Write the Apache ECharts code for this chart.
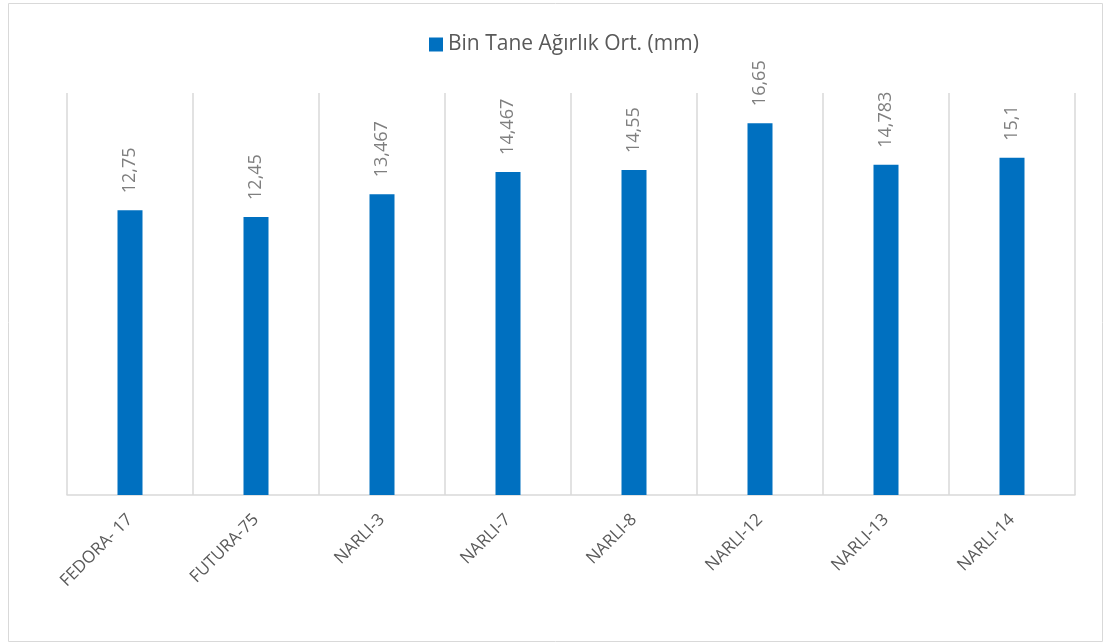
<!DOCTYPE html>
<html>
<head>
<meta charset="utf-8">
<script src="https://cdn.jsdelivr.net/npm/echarts@6/dist/echarts.min.js"></script>
<style>
    html, body { margin: 0; padding: 0; background: #fff; }
    #chart { width: 1105px; height: 643px; }
</style>
</head>
<body>
<div id="chart"></div>
<script>
const seriesName = 'Bin Tane Ağırlık Ort. (mm)';
const categories = ['FEDORA- 17', 'FUTURA-75', 'NARLI-3', 'NARLI-7', 'NARLI-8', 'NARLI-12', 'NARLI-13', 'NARLI-14'];
const values = [12.75, 12.45, 13.467, 14.467, 14.55, 16.65, 14.783, 15.1];

const fontFamily = '"Open Sans", "Liberation Sans", sans-serif';
const labelFormatter = (p) => String(p.value).replace('.', ',');

const chart = echarts.init(document.getElementById('chart'));
chart.setOption({
    animation: false,
    graphic: [{
        type: 'rect',
        shape: { x: 8.5, y: 3.5, width: 1094, height: 638 },
        style: { fill: 'none', stroke: '#d9d9d9', lineWidth: 1 },
        silent: true
    }],
    legend: {
        top: 29,
        left: 424,
        itemWidth: 14,
        itemHeight: 14,
        itemGap: 6,
        icon: 'rect',
        textStyle: {
            color: '#595959',
            fontSize: 21,
            fontFamily: fontFamily
        }
    },
    grid: {
        left: 67,
        right: 30,
        top: 93,
        bottom: 148
    },
    xAxis: {
        type: 'category',
        data: categories,
        axisTick: { show: false },
        axisLine: {
            lineStyle: { color: '#d9d9d9', width: 1.5 }
        },
        splitLine: {
            show: true,
            lineStyle: { color: '#d9d9d9', width: 1.5 }
        },
        axisLabel: {
            rotate: 45,
            margin: 22,
            color: '#595959',
            fontSize: 17,
            fontFamily: fontFamily
        }
    },
    yAxis: {
        type: 'value',
        min: 0,
        max: 18,
        show: false
    },
    series: [{
        name: seriesName,
        type: 'bar',
        data: values,
        barWidth: 25,
        itemStyle: { color: '#0070c0' },
        label: {
            show: true,
            position: 'top',
            rotate: 90,
            align: 'left',
            verticalAlign: 'middle',
            distance: 17,
            color: '#7f7f7f',
            fontSize: 18,
            fontFamily: fontFamily,
            formatter: labelFormatter
        }
    }]
});
</script>
</body>
</html>
